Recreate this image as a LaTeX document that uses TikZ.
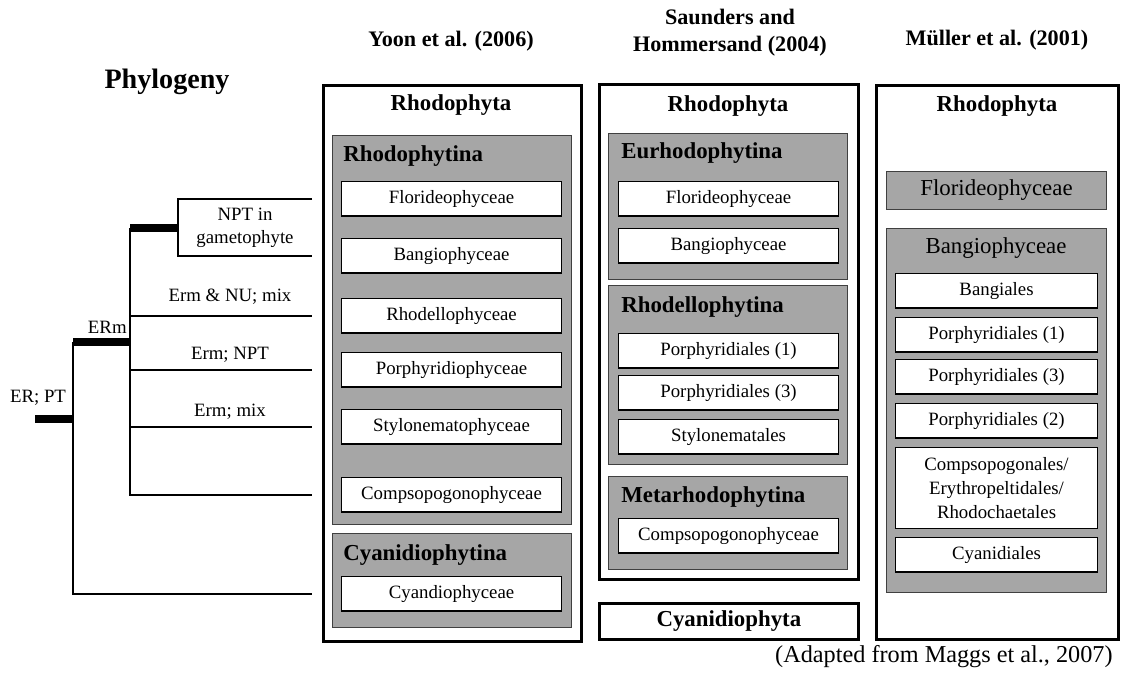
\documentclass[tikz,border=0pt]{standalone}
\usepackage{fontspec}
\setmainfont{Liberation Serif}
\usepackage{tikz}
\definecolor{cladegray}{RGB}{166,166,166}

\begin{document}
\begin{tikzpicture}[x=0.2mm,y=-0.2mm]

%\draw[help lines] (0,0) grid[step=50] (1125,677);
\useasboundingbox (0,0) rectangle (1125,677);

% Define block styles
\tikzstyle{division} = [draw, line width=1.6pt, fill=white, anchor=north west,
  inner sep=0pt]
\tikzstyle{clade} = [draw=black!75, line width=0.6pt, fill=cladegray,
  anchor=north west, inner sep=0pt]
\tikzstyle{taxon} = [draw, line width=0.6pt, fill=white, anchor=north west,
  minimum height=6.9mm, inner sep=1pt, align=center,
  font=\fontsize{10.7}{13.9}\selectfont]
\tikzstyle{title} = [font=\fontsize{13}{15.6}\selectfont\bfseries, inner sep=0pt]
\tikzstyle{header} = [font=\fontsize{12.6}{15.4}\selectfont\bfseries,
  align=center, inner sep=0pt]
\tikzstyle{texto} = [font=\fontsize{10.7}{13}\selectfont, align=center,
  inner sep=0pt]
\tikzstyle{branch} = [draw, line width=1.1pt]
\tikzstyle{stem} = [draw, line width=4.5pt]

% Headers
\node (phylogeny) [font=\fontsize{16}{19}\selectfont\bfseries] at (167,82) {Phylogeny};
\node (yoon) [header] at (451,41) {Yoon et al. (2006)};
\node (saunders) [header] at (730,33) {Saunders and\\Hommersand (2004)};
\node (muller) [header] at (997,40) {Müller et al. (2001)};

% Yoon et al.
\node (yrhodo) [division, minimum width=51.6mm, minimum height=111.2mm] at (322,84) {};
\node (yrhodot) [title] at (451,105) {Rhodophyta};
\node (yrhodina) [clade, minimum width=47.8mm, minimum height=77.8mm] at (332,135) {};
\node (yrhodinat) [title, anchor=west] at (343,156) {Rhodophytina};
\node (yflor) [taxon, minimum width=44mm] at (341,181) {Florideophyceae};
\node (ybang) [taxon, minimum width=44mm] at (341,238) {Bangiophyceae};
\node (yrhodel) [taxon, minimum width=44mm] at (341,298) {Rhodellophyceae};
\node (yporph) [taxon, minimum width=44mm] at (341,352) {Porphyridiophyceae};
\node (ystylo) [taxon, minimum width=44mm] at (341,409) {Stylonematophyceae};
\node (ycompso) [taxon, minimum width=44mm] at (341,477) {Compsopogonophyceae};
\node (ycyanina) [clade, minimum width=47.8mm, minimum height=18.8mm] at (332,533) {};
\node (ycyaninat) [title, anchor=west] at (343,555) {Cyanidiophytina};
\node (ycyan) [taxon, minimum width=44mm] at (341,576) {Cyandiophyceae};

% Saunders and Hommersand
\node (srhodo) [division, minimum width=51.8mm, minimum height=99mm] at (598,83) {};
\node (srhodot) [title] at (728,106) {Rhodophyta};
\node (seurho) [clade, minimum width=47.8mm, minimum height=29.2mm] at (608,133) {};
\node (seurhot) [title, anchor=west] at (621,153) {Eurhodophytina};
\node (sflor) [taxon, minimum width=44mm] at (618,181) {Florideophyceae};
\node (sbang) [taxon, minimum width=44mm] at (618,228) {Bangiophyceae};
\node (srhodel) [clade, minimum width=47.8mm, minimum height=35.8mm] at (608,285) {};
\node (srhodelt) [title, anchor=west] at (621,307) {Rhodellophytina};
\node (sporphone) [taxon, minimum width=44mm] at (618,333) {Porphyridiales (1)};
\node (sporphthree) [taxon, minimum width=44mm] at (618,375) {Porphyridiales (3)};
\node (sstylo) [taxon, minimum width=44mm] at (618,419) {Stylonematales};
\node (smeta) [clade, minimum width=47.8mm, minimum height=18.6mm] at (608,476) {};
\node (smetat) [title, anchor=west] at (621,497) {Metarhodophytina};
\node (scompso) [taxon, minimum width=44mm] at (618,518) {Compsopogonophyceae};
\node (scyan) [division, minimum width=51.8mm, minimum height=7.2mm,
  font=\fontsize{13}{15.6}\selectfont\bfseries] at (598,602) {Cyanidiophyta};

% Mueller et al.
\node (mrhodo) [division, minimum width=48.4mm, minimum height=110.8mm] at (875,84) {};
\node (mrhodot) [title] at (997,106) {Rhodophyta};
\node (mflor) [clade, minimum width=44mm, minimum height=7.6mm,
  font=\fontsize{13}{15.6}\selectfont] at (886,171) {Florideophyceae};
\node (mbang) [clade, minimum width=44mm, minimum height=72.8mm] at (886,228) {};
\node (mbangt) [font=\fontsize{13}{15.6}\selectfont, inner sep=0pt] at (996,248) {Bangiophyceae};
\node (mbangiales) [taxon, minimum width=40.4mm] at (895,273) {Bangiales};
\node (mporphone) [taxon, minimum width=40.4mm] at (895,317) {Porphyridiales (1)};
\node (mporphthree) [taxon, minimum width=40.4mm] at (895,359) {Porphyridiales (3)};
\node (mporphtwo) [taxon, minimum width=40.4mm] at (895,403) {Porphyridiales (2)};
\node (mcompso) [taxon, minimum width=40.4mm, minimum height=16.2mm] at (895,447)
  {Compsopogonales/\\Erythropeltidales/\\Rhodochaetales};
\node (mcyan) [taxon, minimum width=40.4mm] at (895,537) {Cyanidiales};

% Draw phylogeny
\coordinate (tipx) at (312,0);
\coordinate (erpt) at (35,419);
\coordinate (ernode) at (73,419);
\coordinate (ermnode) at (130,342);
\coordinate (nptnode) at (178,228);

\path[stem] (erpt) -- (ernode);
\path[stem] (ernode |- ermnode) -- (ermnode);
\path[stem] (ermnode |- nptnode) -- (nptnode);

\path[branch] (ernode |- ermnode) |- (tipx |- ycyan);
\path[branch] (ermnode |- nptnode) |- (tipx |- ycompso);
\foreach \t in {yrhodel,yporph,ystylo}
  \path[branch] (ermnode |- \t) -- (tipx |- \t);
\path[branch] (tipx |- yflor) -| (nptnode |- ybang) -- (tipx |- ybang);

\node (npt) [texto] at (245,228) {NPT in\\gametophyte};
\node (ermnu) [texto] at (230,297) {Erm \& NU; mix};
\node (ermnpt) [texto] at (230,355) {Erm; NPT};
\node (ermmix) [texto] at (230,412) {Erm; mix};
\node (erm) [texto, anchor=east] at (127,327) {ERm};
\node (erptlabel) [texto] at (38,398) {ER; PT};

% Source
\node (source) [font=\fontsize{13.8}{16}\selectfont, inner sep=0pt, anchor=east]
  at (1113,657) {(Adapted from Maggs et al., 2007)};

\end{tikzpicture}
\end{document}
